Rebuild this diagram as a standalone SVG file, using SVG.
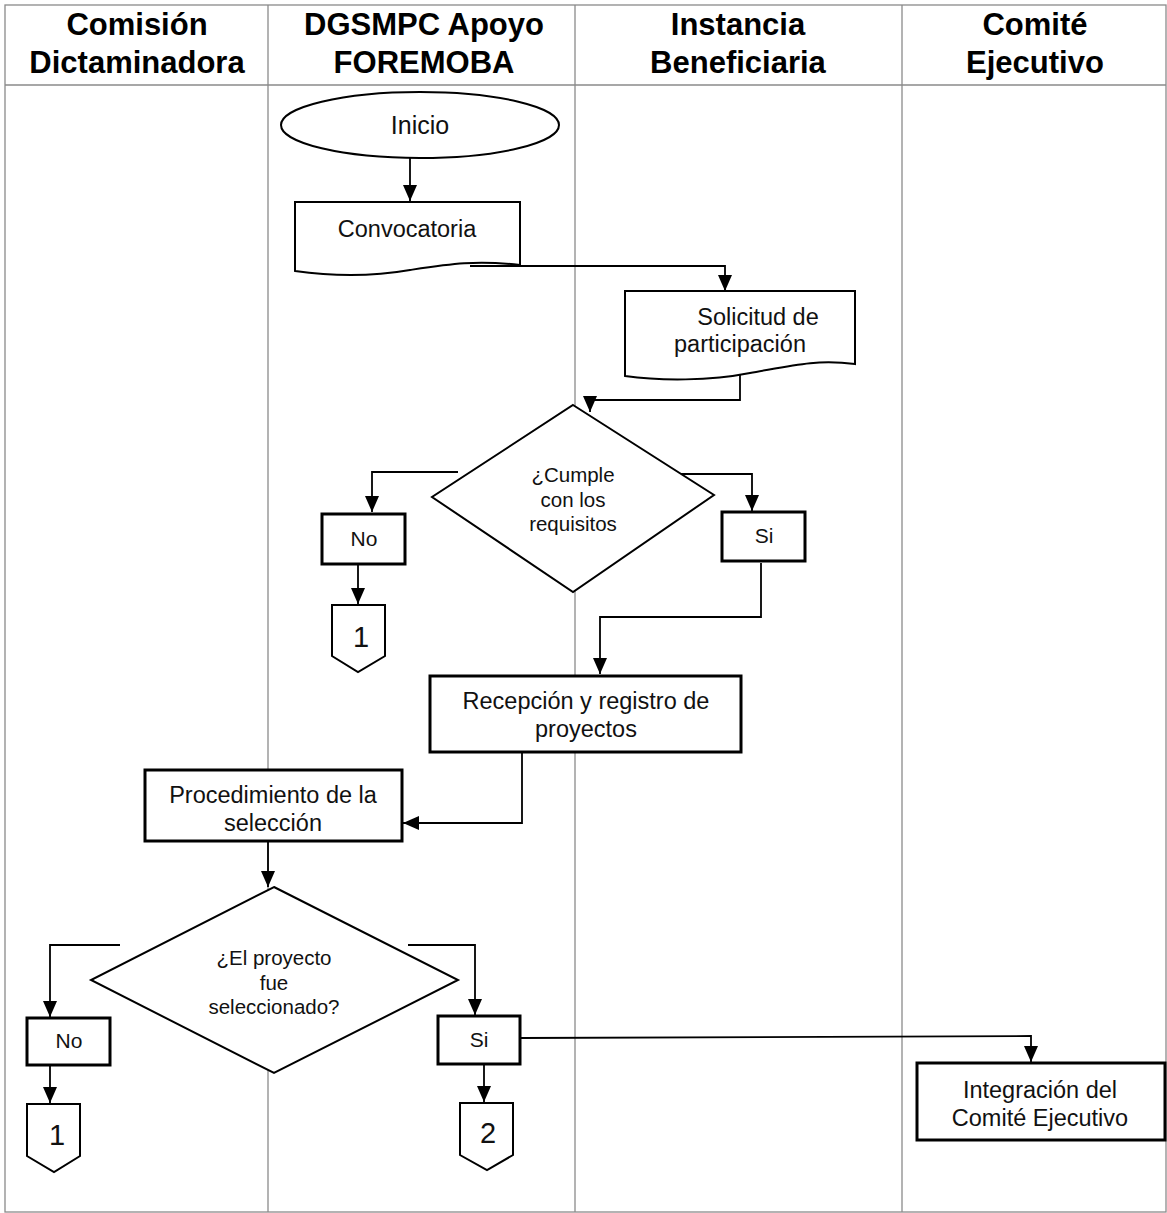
<svg xmlns="http://www.w3.org/2000/svg" width="1167" height="1213" viewBox="0 0 1167 1213">
<defs>
<marker id="arr" markerUnits="userSpaceOnUse" markerWidth="16" markerHeight="14" viewBox="0 0 16 14" refX="16" refY="7" orient="auto">
<path d="M0,0 L16,7 L0,14 Z" fill="#000"/>
</marker>
</defs>
<style>
.lane{fill:none;stroke:#8a8a8a;stroke-width:1.3}
.hdr{font-family:"Liberation Sans",Arial,sans-serif;font-weight:bold;font-size:31px;fill:#000;text-anchor:middle}
.box{fill:#fff;stroke:#000;stroke-width:3}
.thin{fill:#fff;stroke:#000;stroke-width:2}
.t{font-family:"Liberation Sans",Arial,sans-serif;font-size:23.5px;fill:#111;text-anchor:middle}
.d{font-family:"Liberation Sans",Arial,sans-serif;font-size:20.5px;fill:#111;text-anchor:middle}
.s{font-family:"Liberation Sans",Arial,sans-serif;font-size:21px;fill:#111;text-anchor:middle}
.n{font-family:"Liberation Sans",Arial,sans-serif;font-size:29px;fill:#111;text-anchor:middle}
.ca{fill:none;stroke:#000;stroke-width:1.8;marker-end:url(#arr)}
</style>
<rect width="1167" height="1213" fill="#fff"/>
<g id="lanes">
<rect class="lane" x="5" y="5" width="1161" height="1207"/>
<line class="lane" x1="5" y1="85" x2="1166" y2="85"/>
<line class="lane" x1="268" y1="5" x2="268" y2="1212"/>
<line class="lane" x1="575" y1="5" x2="575" y2="1212"/>
<line class="lane" x1="902" y1="5" x2="902" y2="1212"/>
<text class="hdr" x="137" y="35">Comisión</text>
<text class="hdr" x="137" y="73">Dictaminadora</text>
<text class="hdr" x="424" y="35">DGSMPC Apoyo</text>
<text class="hdr" x="424" y="73">FOREMOBA</text>
<text class="hdr" x="738" y="35">Instancia</text>
<text class="hdr" x="738" y="73">Beneficiaria</text>
<text class="hdr" x="1035" y="35">Comité</text>
<text class="hdr" x="1035" y="73">Ejecutivo</text>
</g>
<g id="connectors">
<line class="ca" x1="410" y1="158" x2="410" y2="201"/>
<polyline class="ca" points="470,266 725,266 725,291"/>
<polyline class="ca" points="740,372 740,400 590,400 590,412"/>
<polyline class="ca" points="458,472 372,472 372,512"/>
<line class="ca" x1="358" y1="565" x2="358" y2="604"/>
<polyline class="ca" points="680,474 752,474 752,511"/>
<polyline class="ca" points="761,563 761,617 600,617 600,674"/>
<polyline class="ca" points="522,753 522,823 403,823"/>
<line class="ca" x1="268" y1="842" x2="268" y2="887"/>
<polyline class="ca" points="120,945 50,945 50,1017"/>
<line class="ca" x1="50" y1="1066" x2="50" y2="1103"/>
<polyline class="ca" points="408,945 475,945 475,1015"/>
<line class="ca" x1="484" y1="1065" x2="484" y2="1102"/>
<polyline class="ca" points="521,1038 1031,1036 1031,1062"/>
</g>
<g id="inicio">
<ellipse class="thin" cx="420" cy="125" rx="139" ry="33"/>
<text class="t" x="420" y="134" style="font-size:25px">Inicio</text>
</g>
<g id="convocatoria">
<path class="thin" d="M295,202 H520 V265 C475,260 450,264 410,270 C370,277 330,276 295,271 Z"/>
<text class="t" x="407" y="237">Convocatoria</text>
</g>
<g id="solicitud">
<path class="thin" d="M625,291 H855 V364 C815,359 790,366 750,373 C710,381 660,381 625,376 Z"/>
<text class="t" x="758" y="325">Solicitud de</text>
<text class="t" x="740" y="352">participación</text>
</g>
<g id="decision1">
<polygon class="thin" points="573,405 714,495 573,592 432,497"/>
<text class="d" x="573" y="482">¿Cumple</text>
<text class="d" x="573" y="507">con los</text>
<text class="d" x="573" y="531">requisitos</text>
</g>
<g id="no1">
<rect class="box" x="322" y="514" width="83" height="50"/>
<text class="s" x="364" y="546">No</text>
</g>
<g id="conector1a">
<path class="thin" d="M332,605 H385 V656 L358,672 L332,656 Z"/>
<text class="n" x="361" y="647">1</text>
</g>
<g id="si1">
<rect class="box" x="722" y="512" width="83" height="49"/>
<text class="s" x="764" y="543">Si</text>
</g>
<g id="recepcion">
<rect class="box" x="430" y="676" width="311" height="76"/>
<text class="t" x="586" y="709">Recepción y registro de</text>
<text class="t" x="586" y="737">proyectos</text>
</g>
<g id="procedimiento">
<rect class="box" x="145" y="770" width="257" height="71"/>
<text class="t" x="273" y="803">Procedimiento de la</text>
<text class="t" x="273" y="831">selección</text>
</g>
<g id="decision2">
<polygon class="thin" points="274,887 458,980 274,1073 91,980"/>
<text class="d" x="274" y="965">¿El proyecto</text>
<text class="d" x="274" y="990">fue</text>
<text class="d" x="274" y="1014">seleccionado?</text>
</g>
<g id="no2">
<rect class="box" x="27" y="1018" width="83" height="47"/>
<text class="s" x="69" y="1048">No</text>
</g>
<g id="conector1b">
<path class="thin" d="M27,1104 H80 V1156 L54,1172 L27,1156 Z"/>
<text class="n" x="57" y="1145">1</text>
</g>
<g id="si2">
<rect class="box" x="438" y="1016" width="82" height="48"/>
<text class="s" x="479" y="1047">Si</text>
</g>
<g id="conector2">
<path class="thin" d="M460,1103 H513 V1155 L487,1170 L460,1155 Z"/>
<text class="n" x="488" y="1143">2</text>
</g>
<g id="integracion">
<rect class="box" x="917" y="1063" width="248" height="77"/>
<text class="t" x="1040" y="1098">Integración del</text>
<text class="t" x="1040" y="1126">Comité Ejecutivo</text>
</g>
</svg>
